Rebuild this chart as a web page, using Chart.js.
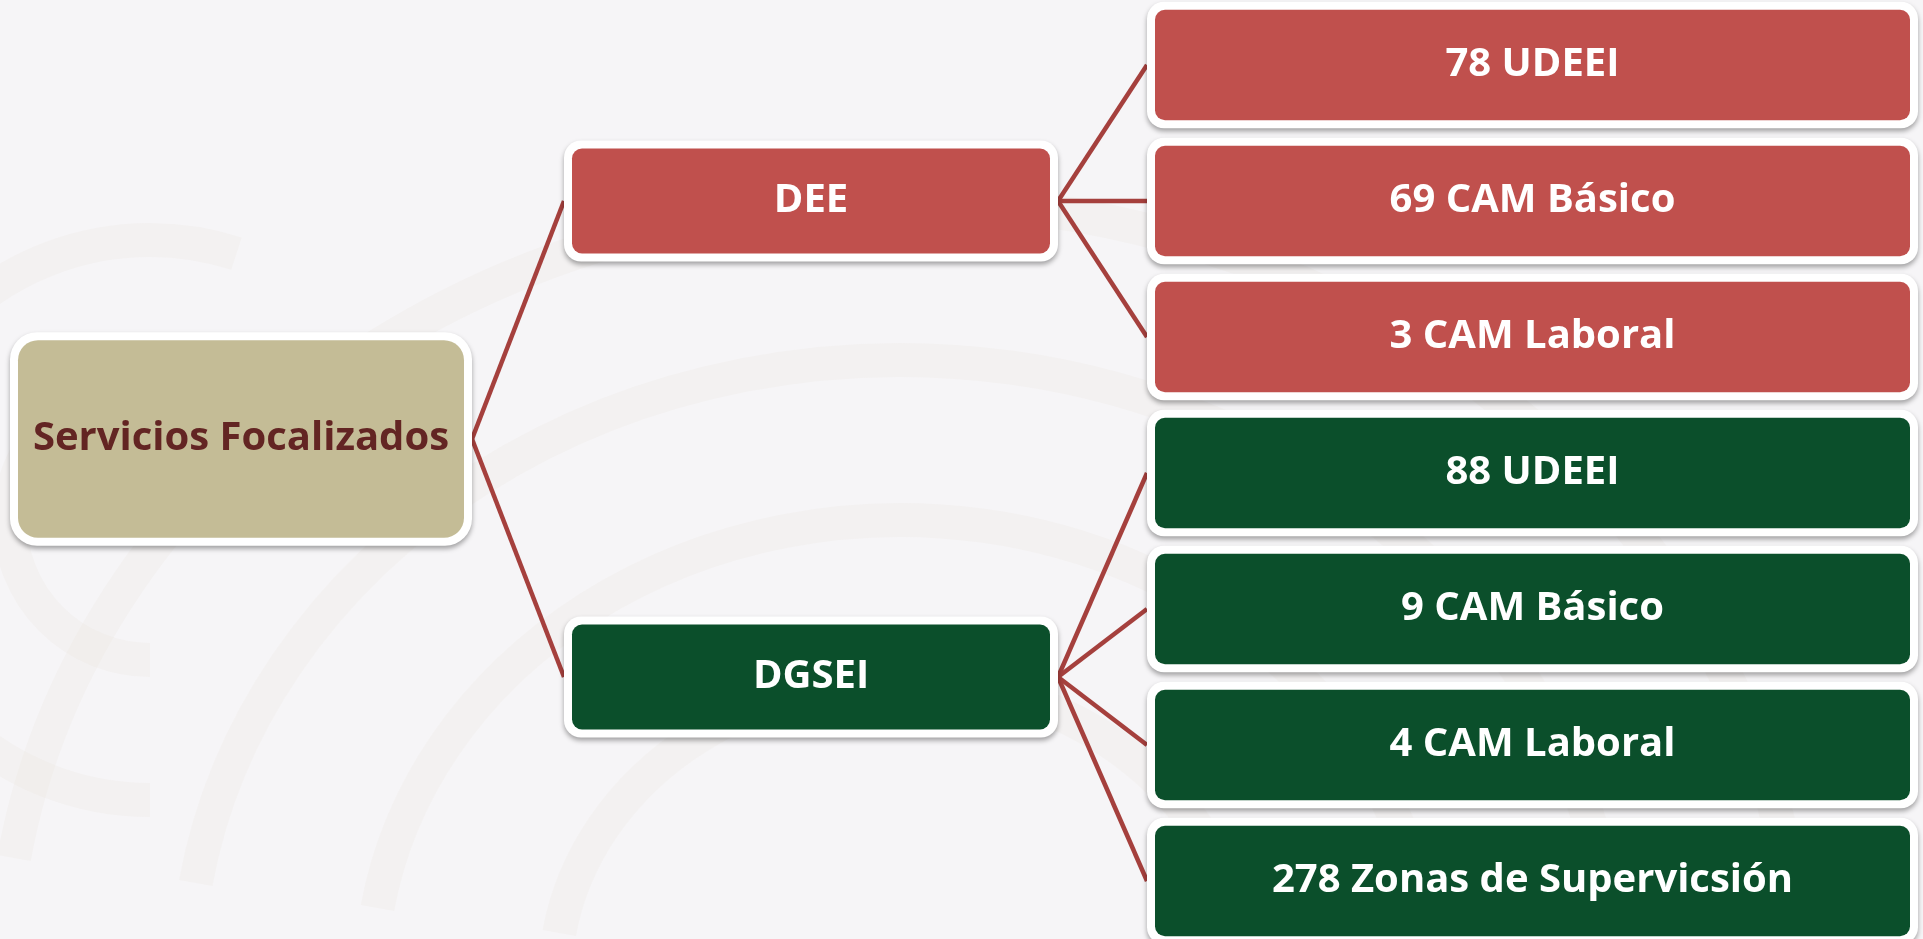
<!DOCTYPE html>
<html>
<head>
<meta charset="utf-8">
<script src="https://cdn.jsdelivr.net/npm/chart.js@4.4.1/dist/chart.umd.min.js"></script>
<style>
  html, body { margin: 0; padding: 0; background: #f6f5f7; overflow: hidden; }
  #wrap { position: relative; width: 1923px; height: 939px; }
</style>
</head>
<body>
<div id="wrap"><canvas id="c"></canvas></div>
<script>
// ── Datos ───────────────────────────────────────────────────────────────────
const rootLabel   = 'Servicios Focalizados';
const groupLabels = ['DEE', 'DGSEI'];
const leafCounts  = [78, 69, 3, 88, 9, 4, 278];
const leafNames   = ['UDEEI', 'CAM Básico', 'CAM Laboral', 'UDEEI', 'CAM Básico', 'CAM Laboral', 'Zonas de Supervicsión'];
const leafGroup   = [0, 0, 0, 1, 1, 1, 1];

// ── Layout (unidades de los ejes) ──────────────────────────────────────────
const COLS = {
  root:  { x0: 10,   x1: 472,  h: 1.57, r: 20 },
  group: { x0: 564,  x1: 1058, h: 0.89, r: 10 },
  leaf:  { x0: 1147, x1: 1918, h: 0.93, r: 10 },
};
const GROUP_COLORS = ['#c0504d', '#0b4f2b'];
const ROOT_COLOR   = '#c4bc96';
const ROOT_TEXT    = '#632523';
const EDGE_COLOR   = '#a5403d';

// posiciones verticales: cada hoja ocupa un "slot", los padres quedan en el promedio
const leafY  = leafCounts.map((_, i) => i);
const groupY = groupLabels.map((_, g) => {
  const ys = leafY.filter((_, i) => leafGroup[i] === g);
  return ys.reduce((s, v) => s + v, 0) / ys.length;
});
const rootY  = groupY.reduce((s, v) => s + v, 0) / groupY.length;

const nodes = [
  { col: 'root', y: rootY, text: rootLabel, fill: ROOT_COLOR, color: ROOT_TEXT },
  ...groupLabels.map((t, g) => ({ col: 'group', y: groupY[g], text: t, fill: GROUP_COLORS[g], color: '#ffffff' })),
  ...leafCounts.map((n, i) => ({ col: 'leaf', y: leafY[i], text: `${n} ${leafNames[i]}`, fill: GROUP_COLORS[leafGroup[i]], color: '#ffffff' })),
];

// ── Aristas como datasets de línea ──────────────────────────────────────────
const edge = (x0, y0, x1, y1) => ({
  type: 'line',
  data: [{ x: x0, y: y0 }, { x: x1, y: y1 }],
  borderColor: EDGE_COLOR,
  borderWidth: 4.5,
  pointRadius: 0,
  showLine: true,
  fill: false,
});
const edges = [
  ...groupY.map(gy => edge(COLS.root.x1, rootY, COLS.group.x0, gy)),
  ...leafY.map((ly, i) => edge(COLS.group.x1, groupY[leafGroup[i]], COLS.leaf.x0, ly)),
];

// ── Plugins ────────────────────────────────────────────────────────────────
function roundRect(ctx, x, y, w, h, r) {
  ctx.beginPath();
  ctx.moveTo(x + r, y);
  ctx.arcTo(x + w, y, x + w, y + h, r);
  ctx.arcTo(x + w, y + h, x, y + h, r);
  ctx.arcTo(x, y + h, x, y, r);
  ctx.arcTo(x, y, x + w, y, r);
  ctx.closePath();
}

const backdrop = {
  id: 'backdrop',
  beforeDraw(chart) {
    const { ctx, width, height } = chart;
    ctx.save();
    ctx.fillStyle = '#f6f5f7';
    ctx.fillRect(0, 0, width, height);
    // marca de agua muy tenue
    ctx.strokeStyle = 'rgba(222, 212, 186, 0.09)';
    ctx.lineWidth = 34;
    [300, 460, 620, 780].forEach(r => {
      ctx.beginPath();
      ctx.ellipse(900, 980, r * 1.15, r, 0, Math.PI * 1.05, Math.PI * 1.95);
      ctx.stroke();
    });
    [140, 280].forEach(r => {
      ctx.beginPath();
      ctx.arc(150, 520, r, Math.PI * 0.5, Math.PI * 1.6);
      ctx.stroke();
    });
    ctx.restore();
  },
};

const boxes = {
  id: 'boxes',
  afterDatasetsDraw(chart) {
    const { ctx } = chart;
    const xs = chart.scales.x, ys = chart.scales.y;
    ctx.save();
    nodes.forEach(n => {
      const c  = COLS[n.col];
      const x0 = xs.getPixelForValue(c.x0);
      const x1 = xs.getPixelForValue(c.x1);
      const yt = ys.getPixelForValue(n.y - c.h / 2);
      const yb = ys.getPixelForValue(n.y + c.h / 2);
      const top = Math.min(yt, yb), h = Math.abs(yb - yt), w = x1 - x0;

      ctx.save();
      ctx.shadowColor = 'rgba(0,0,0,0.35)';
      ctx.shadowBlur = 5;
      ctx.shadowOffsetY = 3;
      ctx.fillStyle = '#ffffff';
      roundRect(ctx, x0, top, w, h, c.r + 7);
      ctx.fill();
      ctx.restore();

      const b = 8;
      ctx.fillStyle = n.fill;
      roundRect(ctx, x0 + b, top + b, w - 2 * b, h - 2 * b, c.r);
      ctx.fill();

      ctx.fillStyle = n.color;
      ctx.font = 'bold 40px "Open Sans", sans-serif';
      ctx.textAlign = 'center';
      ctx.textBaseline = 'middle';
      ctx.fillText(n.text, (x0 + x1) / 2, top + h / 2);
    });
    ctx.restore();
  },
};

// ── Chart ──────────────────────────────────────────────────────────────────
new Chart(document.getElementById('c'), {
  type: 'scatter',
  data: { datasets: edges },
  options: {
    responsive: true,
    maintainAspectRatio: false,
    animation: false,
    layout: { padding: 0 },
    plugins: { legend: { display: false }, tooltip: { enabled: false } },
    scales: {
      x: { type: 'linear', min: 0, max: 1923, display: false },
      y: { type: 'linear', min: -65 / 136, max: (939 - 65) / 136, reverse: true, display: false },
    },
  },
  plugins: [backdrop, boxes],
});
</script>
</body>
</html>
